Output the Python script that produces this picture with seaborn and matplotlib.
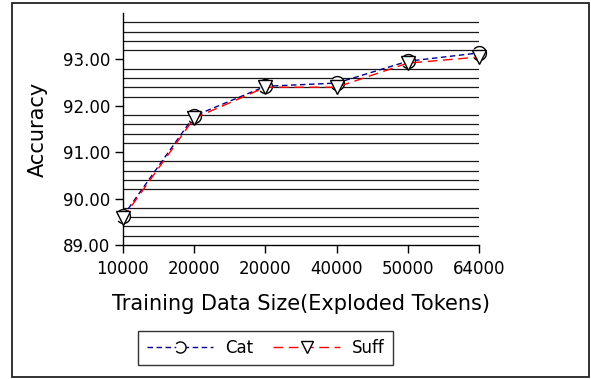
import numpy as np
import pandas as pd
import matplotlib
matplotlib.use("Agg")
import matplotlib.pyplot as plt
from matplotlib.path import Path
from matplotlib.patches import Rectangle
import seaborn as sns

sizes = ["10000", "20000", "20000", "40000", "50000", "64000"]
cat_acc = [89.62, 91.78, 92.42, 92.49, 92.96, 93.14]
suff_acc = [89.58, 91.73, 92.40, 92.40, 92.92, 93.05]

sns.set_theme(style="ticks")
plt.rcParams['font.family'] = ['DejaVu Sans']
plt.rcParams['text.color'] = 'black'
plt.rcParams['axes.labelcolor'] = 'black'
plt.rcParams['xtick.color'] = 'black'
plt.rcParams['ytick.color'] = 'black'

fig = plt.figure(figsize=(5.91, 3.79), dpi=100)
ax = fig.add_axes([0.208, 0.3536, 0.6025, 0.6121])

pos = np.arange(len(sizes))
df = pd.DataFrame({"pos": pos, "Cat": cat_acc, "Suff": suff_acc})

# minor gridlines every 0.2 (not at integers), spanning data range only
grid_vals = [v / 10 for v in range(892, 940, 2) if v % 10 != 0]
ax.hlines(grid_vals, 0, len(sizes) - 1, colors="#1a1a1a", linewidth=0.9, zorder=1)

arc = Path.arc(-140, 140)

sns.lineplot(data=df, x="pos", y="Cat", ax=ax, color="#00008b", linewidth=1.0,
             marker=arc, markersize=10, markerfacecolor="white",
             markeredgecolor="black", markeredgewidth=1.0, label="Cat",
             clip_on=False, zorder=3)
sns.lineplot(data=df, x="pos", y="Suff", ax=ax, color="red", linewidth=1.0,
             marker="v", markersize=10, markerfacecolor="white",
             markeredgecolor="black", markeredgewidth=1.0, label="Suff",
             clip_on=False, zorder=4)

lines = ax.get_lines()
lines[0].set_dashes([4, 2.5])
lines[1].set_dashes([7, 4])

ax.set_xlim(0, len(sizes) - 1)
ax.set_ylim(89, 94)
ax.set_xticks(pos)
ax.set_xticklabels(sizes, fontsize=12)
ax.set_yticks([89, 90, 91, 92, 93])
ax.set_yticklabels([f"{v:.2f}" for v in [89, 90, 91, 92, 93]], fontsize=12)
ax.tick_params(axis="x", direction="out", length=6, width=1, color="black",
               labelcolor="black", pad=4.5)
ax.tick_params(axis="y", direction="out", length=6, width=1, color="black",
               labelcolor="black", pad=3)
for s in ["top", "right"]:
    ax.spines[s].set_visible(False)
for s in ["left", "bottom"]:
    ax.spines[s].set_color("black")
    ax.spines[s].set_linewidth(1.0)
ax.set_facecolor("white")

ax.set_xlabel("Training Data Size(Exploded Tokens)", fontsize=15, color="black", labelpad=12)
ax.set_ylabel("Accuracy", fontsize=15, color="black", labelpad=11)

leg = ax.legend(loc="center", bbox_to_anchor=(265.5 / 591, 1 - 348 / 379),
                bbox_transform=fig.transFigure, ncol=2, fontsize=12,
                frameon=True, fancybox=False, edgecolor="black",
                handlelength=4, markerscale=0.8, columnspacing=1.2,
                borderpad=0.5, handletextpad=0.7)
leg.get_frame().set_linewidth(1.0)
for t in leg.get_texts():
    t.set_color("black")

fig.patches.append(Rectangle((12 / 591, 2 / 379), 577 / 591, 374 / 379,
                             transform=fig.transFigure, fill=False,
                             edgecolor="#222222", linewidth=1.3))

fig.savefig("out.png", dpi=100)
